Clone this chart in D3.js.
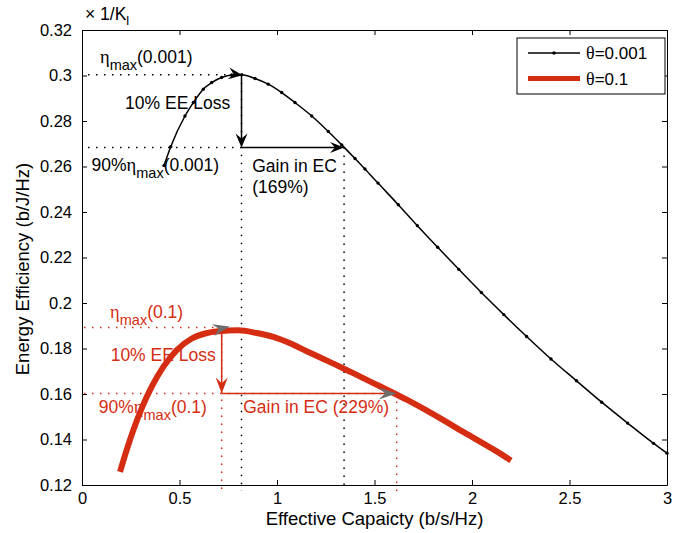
<!DOCTYPE html>
<html>
<head>
<meta charset="utf-8">
<script src="https://cdn.jsdelivr.net/npm/d3@7"></script>
<style>
  body { margin: 0; background: #fff; }
  svg { display: block; font-family: "Liberation Sans", Arial, sans-serif; }
</style>
</head>
<body>
<div id="chart"></div>
<script>
// valori
const ecTheta001 = [0.4205, 0.455, 0.528, 0.571, 0.622, 0.665, 0.716, 0.768, 0.819, 0.887, 0.955, 1.024, 1.092, 1.178, 1.263, 1.332, 1.400, 1.451, 1.518, 1.622, 1.720, 1.824, 1.932, 2.048, 2.163, 2.280, 2.405, 2.536, 2.665, 2.798, 2.931, 3.0];
const eeTheta001 = [0.2604, 0.2687, 0.2822, 0.2881, 0.2940, 0.2969, 0.2991, 0.3002, 0.3003, 0.2987, 0.2962, 0.2925, 0.2881, 0.2822, 0.2754, 0.2695, 0.2635, 0.2589, 0.2527, 0.2432, 0.2340, 0.2245, 0.2148, 0.2046, 0.1949, 0.1853, 0.1754, 0.1658, 0.1564, 0.1472, 0.1383, 0.1340];
const ecTheta01 = [0.195, 0.229, 0.263, 0.306, 0.357, 0.417, 0.486, 0.563, 0.631, 0.699, 0.802, 0.896, 0.981, 1.067, 1.152, 1.238, 1.323, 1.409, 1.494, 1.579, 1.665, 1.789, 1.962, 2.118, 2.2];
const eeTheta01 = [0.1258, 0.1354, 0.1441, 0.1537, 0.1631, 0.1719, 0.1793, 0.1844, 0.1866, 0.1876, 0.1880, 0.1868, 0.1851, 0.1823, 0.1788, 0.1754, 0.1720, 0.1684, 0.1648, 0.1612, 0.1575, 0.1517, 0.1430, 0.1352, 0.1308];
const seriesNames = ["θ=0.001", "θ=0.1"];
const xTicks = [0, 0.5, 1, 1.5, 2, 2.5, 3];
const yTicks = [0.12, 0.14, 0.16, 0.18, 0.2, 0.22, 0.24, 0.26, 0.28, 0.3, 0.32];

// punti delle annotazioni (EC, EE)
const etaMax001 = 0.3003, eta90_001 = 0.2683, ecPeak001 = 0.818, ecGain001 = 1.344;
const etaMax01 = 0.1892, eta90_01 = 0.1602, ecPeak01 = 0.7164, ecGain01 = 1.614;

const width = 681, height = 533;
const margin = { top: 30, right: 14, bottom: 48, left: 82 };
const innerWidth = width - margin.left - margin.right;
const innerHeight = height - margin.top - margin.bottom;
const RED = "#d52d12", GRAY = "#6d6d6d", SERIF = "'Liberation Serif', 'DejaVu Serif', serif";

const svg = d3.select("#chart").append("svg").attr("width", width).attr("height", height)
    .append("g").attr("transform", `translate(${margin.left},${margin.top})`);

const x = d3.scaleLinear().domain([0, 3]).range([0, innerWidth]);
const y = d3.scaleLinear().domain([0.12, 0.32]).range([innerHeight, 0]);

// Assi (tick interni, box stile MATLAB)
const fmt = d => d3.format("")(d);
svg.append("g").attr("transform", `translate(0,${innerHeight})`)
    .call(d3.axisBottom(x).tickValues(xTicks).tickFormat(fmt).tickSizeInner(-5).tickSizeOuter(0).tickPadding(7));
svg.append("g")
    .call(d3.axisLeft(y).tickValues(yTicks).tickFormat(fmt).tickSizeInner(-5).tickSizeOuter(0).tickPadding(10));
svg.append("g").call(d3.axisTop(x).tickValues(xTicks).tickSizeInner(-5).tickSizeOuter(0))
    .selectAll("text").remove();
svg.append("g").attr("transform", `translate(${innerWidth},0)`)
    .call(d3.axisRight(y).tickValues(yTicks).tickSizeInner(-5).tickSizeOuter(0))
    .selectAll("text").remove();
svg.selectAll(".tick text").attr("font-size", 16.5).attr("font-family", "'Liberation Sans', Arial, sans-serif").attr("fill", "#000");
svg.selectAll(".domain, .tick line").attr("stroke", "#000");

svg.append("text").attr("x", 3).attr("y", -10).attr("font-size", 17.5)
    .call(t => { t.append("tspan").text("× 1/K"); t.append("tspan").attr("font-size", 13).attr("dy", 5).text("l"); });

svg.append("text").attr("transform", `translate(${-53},${239}) rotate(-90)`)
    .attr("text-anchor", "middle").attr("font-size", 18.5).text("Energy Efficiency (b/J/Hz)");
svg.append("text").attr("x", innerWidth / 2).attr("y", innerHeight + 40)
    .attr("text-anchor", "middle").attr("font-size", 18.5).text("Effective Capaicty (b/s/Hz)");

// linee tratteggiate di riferimento
const dotted = (x1, y1, x2, y2, color) => svg.append("line")
    .attr("x1", x1).attr("y1", y1).attr("x2", x2).attr("y2", y2)
    .attr("stroke", color).attr("stroke-width", 1.5).attr("stroke-dasharray", "1.5,6.5");
const solid = (x1, y1, x2, y2, color) => svg.append("line")
    .attr("x1", x1).attr("y1", y1).attr("x2", x2).attr("y2", y2)
    .attr("stroke", color).attr("stroke-width", 1.5);
function arrowHead(px, py, angle, len, wid, color) {
    svg.append("path")
        .attr("d", `M0,0L${-len},${-wid / 2}L${-len * 0.65},0L${-len},${wid / 2}Z`)
        .attr("transform", `translate(${px},${py}) rotate(${angle})`)
        .attr("fill", color);
}

const below = innerHeight + 6;
dotted(x(0) + 6, y(etaMax001), x(ecPeak001) - 4, y(etaMax001), "#000");
dotted(x(0) + 6, y(eta90_001), x(ecPeak001), y(eta90_001), "#000");
dotted(x(ecPeak001), y(etaMax001), x(ecPeak001), below, "#000");
dotted(x(ecGain001), y(eta90_001), x(ecGain001), below, "#000");
dotted(x(0) + 2, y(etaMax01), x(ecPeak01), y(etaMax01), RED);
dotted(x(0) + 2, y(eta90_01), x(ecGain01), y(eta90_01), RED);
dotted(x(ecPeak01), y(etaMax01), x(ecPeak01), below, RED);
dotted(x(ecGain01), y(eta90_01), x(ecGain01), below, RED);

// Curve
const line = d3.line().x(d => x(d[0])).y(d => y(d[1])).curve(d3.curveMonotoneX);
const black = ecTheta001.map((v, i) => [v, eeTheta001[i]]);
const red = ecTheta01.map((v, i) => [v, eeTheta01[i]]);

svg.append("path").datum(red).attr("d", line).attr("fill", "none")
    .attr("stroke", RED).attr("stroke-width", 6);
svg.append("path").datum(black).attr("d", line).attr("fill", "none")
    .attr("stroke", "#000").attr("stroke-width", 1.5);
svg.selectAll("circle.m").data(black).enter().append("circle").attr("class", "m")
    .attr("cx", d => x(d[0])).attr("cy", d => y(d[1])).attr("r", 1.7).attr("fill", "#000");

// Frecce
solid(x(ecPeak001), y(etaMax001), x(ecPeak001), y(eta90_001) - 4, "#000");
solid(x(ecPeak001), y(eta90_001), x(ecGain001) - 4, y(eta90_001), "#000");
arrowHead(x(ecPeak001) + 1, y(etaMax001) + 0.5, 8, 14, 12, "#000");
arrowHead(x(ecPeak001), y(eta90_001), 90, 14, 12, "#000");
arrowHead(x(ecGain001), y(eta90_001), 0, 14, 11, "#000");

solid(x(ecPeak01), y(etaMax01), x(ecPeak01), y(eta90_01) - 4, RED);
solid(x(ecPeak01), y(eta90_01), x(ecGain01) - 4, y(eta90_01), RED);
arrowHead(x(ecPeak01) + 8, y(etaMax01) - 1, -12, 17, 12, GRAY);
arrowHead(x(ecPeak01), y(eta90_01), 90, 16, 12, RED);
arrowHead(x(ecGain01), y(eta90_01), 0, 18, 12, GRAY);

// Testi delle annotazioni
function etaText(xv, yv, prefix, arg, color) {
    const t = svg.append("text").attr("x", x(xv)).attr("y", y(yv)).attr("fill", color).attr("font-size", 17.5);
    if (prefix) t.append("tspan").text(prefix);
    t.append("tspan").attr("font-family", SERIF).attr("font-size", 18.5).text("η");
    t.append("tspan").attr("font-size", 14.5).attr("dy", 7).text("max");
    t.append("tspan").attr("dy", -7).text(`(${arg})`);
}
const note = (xv, yv, txt, color) => svg.append("text").attr("x", x(xv)).attr("y", y(yv))
    .attr("fill", color).attr("font-size", 17.5).text(txt);

etaText(0.092, 0.3055, "", "0.001", "#000");
note(0.221, 0.2853, "10% EE Loss", "#000");
etaText(0.049, 0.258, "90%", "0.001", "#000");
note(0.873, 0.2576, "Gain in EC", "#000");
note(0.873, 0.2482, "(169%)", "#000");
etaText(0.144, 0.1933, "", "0.1", RED);
note(0.147, 0.1745, "10% EE Loss", RED);
etaText(0.086, 0.1515, "90%", "0.1", RED);
note(0.827, 0.1515, "Gain in EC (229%)", RED);

// Legenda
const legend = svg.append("g").attr("transform", `translate(${435},${8})`);
legend.append("rect").attr("width", 148).attr("height", 56).attr("fill", "#fff").attr("stroke", "#000");
seriesNames.forEach((name, i) => {
    const row = legend.append("g").attr("transform", `translate(0,${15 + i * 25.5})`);
    row.append("line").attr("x1", 11).attr("x2", 63)
        .attr("stroke", i === 0 ? "#000" : RED).attr("stroke-width", i === 0 ? 1.5 : 5);
    if (i === 0) row.append("circle").attr("cx", 37).attr("r", 1.7).attr("fill", "#000");
    row.append("text").attr("x", 69).attr("y", 6).attr("font-size", 17)
        .call(t => { t.append("tspan").attr("font-family", SERIF).attr("font-size", 18).text(name[0]); t.append("tspan").text(name.slice(1)); });
});
</script>
</body>
</html>
